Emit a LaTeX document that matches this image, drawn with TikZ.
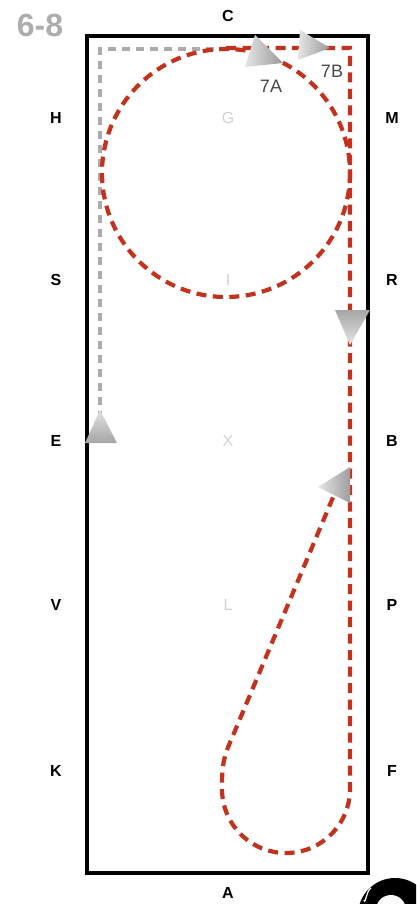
\documentclass[tikz,border=0pt]{standalone}
\usepackage{fontspec}
\setmainfont{Liberation Sans}
\begin{document}
\begin{tikzpicture}[x=1pt,y=-1pt,
  letter/.style={font=\fontsize{16}{16}\selectfont\bfseries, text=black, inner sep=0pt},
  inner/.style={font=\fontsize{16}{16}\selectfont, text=black!18, inner sep=0pt},
  tag/.style={font=\fontsize{18}{18}\selectfont, text=black!72, inner sep=0pt},
  redpath/.style={draw=redd, line width=4.2pt, dash pattern=on 10pt off 6.5pt},
  graypath/.style={draw=black!33, line width=3.5pt, dash pattern=on 8pt off 6pt},
  arrowtri/.style={left color=black!10, right color=black!40, draw=none}
]
\definecolor{redd}{HTML}{C2321C}
\useasboundingbox (0,0) rectangle (416,904);
\clip (0,0) rectangle (416,904);
% title
\node[font=\fontsize{32}{32}\selectfont\bfseries, text=black!32, inner sep=0pt] (title) at (40,25) {6-8};
% arena
\draw[line width=4.5pt] (87,36) rectangle (368,873);
% letters
\node[letter] (C) at (228,16) {C};
\node[letter] (A) at (228,893) {A};
\node[letter] (H) at (56,118) {H};
\node[letter] (M) at (392,118) {M};
\node[letter] (S) at (56,280) {S};
\node[letter] (R) at (392,280) {R};
\node[letter] (E) at (56,441) {E};
\node[letter] (B) at (392,441) {B};
\node[letter] (V) at (56,605) {V};
\node[letter] (P) at (392,605) {P};
\node[letter] (K) at (56,771) {K};
\node[letter] (F) at (392,771) {F};
\node[inner] (G) at (228,118) {G};
\node[inner] (I) at (228,280) {I};
\node[inner] (X) at (228,441) {X};
\node[inner] (L) at (228,605) {L};
% gray path
\draw[graypath] (228,49) -- (100,49) -- (100,420);
% red circle
\draw[redpath] (226,173) circle[radius=124];
% red path
\draw[redpath] (226,48) -- (350,48) -- (350,789)
  arc[start angle=0, end angle=180, x radius=64, y radius=64]
  to[out=90, in=247] (229,745) -- (334,495);
% arrow triangles
\shade[arrowtri] (255,35) -- (283,63) -- (245,67) -- cycle;
\shade[arrowtri] (300,30) -- (330,48) -- (298,60) -- cycle;
\shade[arrowtri, top color=black!35, bottom color=black!10] (335,310) -- (370,310) -- (350,345) -- cycle;
\shade[arrowtri, top color=black!12, bottom color=black!35] (100,410) -- (117,443) -- (85,443) -- cycle;
\shade[arrowtri, left color=black!10, right color=black!38] (318,487) -- (350,467) -- (350,503) -- cycle;
% tags
\node[tag] (t7A) at (271,86) {7A};
\node[tag] (t7B) at (332,71) {7B};
% logo fragment
\fill[black] (395,915) circle[radius=37];
\fill[white] (391,910) circle[radius=15];
\draw[white, line width=1.2pt] (364,900) to[out=-75, in=210] (371,888);
\end{tikzpicture}
\end{document}
